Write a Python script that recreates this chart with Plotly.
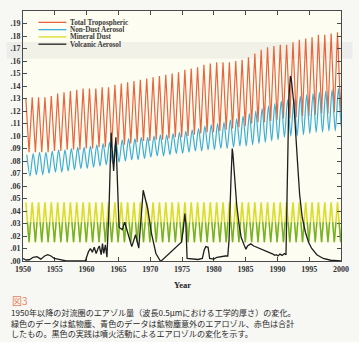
import plotly.graph_objects as go

# ---------------- data ----------------
years = list(range(1950, 2001))

total_peak = [0.130, 0.131, 0.131, 0.131, 0.132, 0.134, 0.135, 0.136, 0.137, 0.138,
              0.138, 0.138, 0.139, 0.139, 0.141, 0.142, 0.143, 0.144, 0.145, 0.146,
              0.147, 0.148, 0.149, 0.150, 0.151, 0.153, 0.154, 0.155, 0.157, 0.158,
              0.159, 0.159, 0.159, 0.160, 0.161, 0.163, 0.166, 0.169, 0.171, 0.172,
              0.173, 0.173, 0.175, 0.177, 0.178, 0.179, 0.181, 0.181, 0.182, 0.183,
              0.184]
total_trough = [0.087, 0.087, 0.087, 0.087, 0.088, 0.088, 0.089, 0.089, 0.089, 0.090,
                0.090, 0.091, 0.091, 0.092, 0.093, 0.093, 0.094, 0.095, 0.096, 0.096,
                0.097, 0.097, 0.098, 0.099, 0.099, 0.100, 0.101, 0.102, 0.103, 0.103,
                0.104, 0.105, 0.106, 0.107, 0.108, 0.110, 0.111, 0.111, 0.112, 0.113,
                0.114, 0.114, 0.115, 0.116, 0.116, 0.117, 0.118, 0.118, 0.119, 0.119,
                0.120]

nondust_peak = [0.085, 0.086, 0.087, 0.087, 0.088, 0.089, 0.089, 0.090, 0.091, 0.091,
                0.092, 0.093, 0.094, 0.095, 0.096, 0.097, 0.098, 0.098, 0.099, 0.099,
                0.100, 0.101, 0.101, 0.102, 0.103, 0.104, 0.105, 0.106, 0.108, 0.109,
                0.110, 0.111, 0.113, 0.114, 0.116, 0.118, 0.120, 0.122, 0.124, 0.126,
                0.128, 0.129, 0.130, 0.132, 0.133, 0.134, 0.135, 0.136, 0.137, 0.138,
                0.139]
nondust_trough = [0.068, 0.069, 0.069, 0.070, 0.071, 0.071, 0.072, 0.073, 0.074, 0.074,
                  0.075, 0.076, 0.077, 0.078, 0.079, 0.080, 0.081, 0.081, 0.082, 0.083,
                  0.084, 0.084, 0.085, 0.086, 0.086, 0.087, 0.088, 0.088, 0.089, 0.089,
                  0.090, 0.090, 0.091, 0.092, 0.092, 0.093, 0.094, 0.095, 0.096, 0.097,
                  0.099, 0.100, 0.100, 0.101, 0.102, 0.103, 0.103, 0.104, 0.104, 0.105,
                  0.105]

dust_peak = [0.047, 0.047, 0.047, 0.047, 0.047, 0.047, 0.047, 0.047, 0.047, 0.047,
             0.047, 0.047, 0.047, 0.047, 0.047, 0.047, 0.047, 0.047, 0.047, 0.047,
             0.047, 0.047, 0.047, 0.047, 0.047, 0.047, 0.047, 0.047, 0.047, 0.047,
             0.047, 0.047, 0.047, 0.047, 0.047, 0.047, 0.047, 0.047, 0.047, 0.047,
             0.047, 0.047, 0.047, 0.047, 0.047, 0.047, 0.047, 0.047, 0.047, 0.047,
             0.047]
dust_trough = [0.015, 0.015, 0.015, 0.015, 0.015, 0.015, 0.015, 0.015, 0.015, 0.015,
               0.015, 0.015, 0.015, 0.015, 0.015, 0.015, 0.015, 0.015, 0.015, 0.015,
               0.015, 0.015, 0.015, 0.015, 0.015, 0.015, 0.015, 0.015, 0.015, 0.015,
               0.015, 0.015, 0.015, 0.015, 0.015, 0.015, 0.015, 0.015, 0.015, 0.015,
               0.015, 0.015, 0.015, 0.015, 0.015, 0.015, 0.015, 0.015, 0.015, 0.015,
               0.015]

volc_year = [1950.0, 1950.5, 1951.0, 1951.6, 1952.2, 1952.8, 1953.4, 1953.9, 1954.4, 1954.9,
             1955.5, 1956.2, 1956.8, 1959.8,
             1960.0, 1960.3, 1960.6, 1960.9, 1961.2, 1961.5, 1961.8, 1962.0, 1962.3, 1962.5,
             1962.7, 1962.95, 1963.2, 1963.55, 1963.85, 1964.05, 1964.25, 1964.6, 1964.85,
             1965.1, 1965.6, 1966.0, 1966.5, 1967.1, 1967.7, 1968.2, 1968.9, 1969.6, 1970.2,
             1970.9, 1971.6, 1971.9, 1974.9, 1975.2, 1975.45, 1975.6, 1975.8, 1976.5, 1977.5,
             1978.2, 1978.5, 1978.75, 1979.1, 1979.35, 1980.0, 1980.5, 1981.0, 1981.8, 1982.2,
             1982.4, 1982.7, 1982.9, 1983.0, 1983.3, 1983.6, 1983.95, 1984.3, 1984.8, 1985.05,
             1985.3, 1985.8, 1986.3, 1986.8, 1987.3, 1987.8, 1988.3, 1988.8, 1989.3, 1989.6,
             1989.85, 1990.1, 1990.4, 1990.75, 1991.1, 1991.35, 1991.6, 1991.8, 1992.05,
             1992.2, 1992.6, 1992.9, 1993.15, 1993.5, 1993.9, 1994.4, 1994.9, 1995.4, 1996.2,
             1997.2, 1998.4, 2000.0]
volc_value = [0.002, 0.0008, 0.001, 0.003, 0.0035, 0.0015, 0.004, 0.005, 0.004, 0.002,
              0.0015, 0.0005, 0.0, 0.0,
              0.003, 0.0075, 0.010, 0.007, 0.011, 0.006, 0.010, 0.012, 0.005, 0.014,
              0.006, 0.013, 0.003, 0.046, 0.1025, 0.088, 0.072, 0.099, 0.066,
              0.027, 0.025, 0.031, 0.022, 0.0115, 0.021, 0.0103, 0.0566, 0.042, 0.022,
              0.006, 0.0, 0.0008, 0.015, 0.025, 0.038, 0.030, 0.002, 0.0015, 0.0012,
              0.002, 0.009, 0.0115, 0.011, 0.002, 0.0015, 0.003, 0.0035, 0.004, 0.004,
              0.017, 0.065, 0.090, 0.086, 0.063, 0.045, 0.030, 0.019, 0.0125, 0.0095,
              0.012, 0.0137, 0.012, 0.011, 0.0095, 0.0087, 0.0075, 0.0066, 0.0055, 0.0045,
              0.005, 0.004, 0.0055, 0.0045, 0.006, 0.005, 0.080, 0.130, 0.148,
              0.145, 0.125, 0.104, 0.080, 0.053, 0.035, 0.023, 0.015, 0.010, 0.005,
              0.002, 0.0006, 0.0]

x_ticks = [1950, 1955, 1960, 1965, 1970, 1975, 1980, 1985, 1990, 1995, 2000]
x_labels = [str(v) for v in x_ticks]
y_ticks = [i / 100 for i in range(0, 20)]
y_labels = [".%02d" % i for i in range(0, 20)]

legend_names = ["Total Tropospheric", "Non-Dust Aerosol", "Mineral Dust", "Volcanic Aerosol"]

caption_title = "図3"
caption_lines = [
    "1950年以降の対流圏のエアゾル量（波長0.5μmにおける工学的厚さ）の変化。",
    "緑色のデータは鉱物塵、青色のデータは鉱物塵意外のエアロゾル、赤色は合計",
    "したもの。黒色の実践は噴火活動によるエアロゾルの変化を示す。",
]

# ---------------- styling ----------------
W, H = 359, 342
L, R, T, B = 17, 12, 10, 81
PW, PH = W - L - R, H - T - B

RED = "#e8663e"
BLUE = "#3aaed8"
YELLOW = "#dcdc2a"
GREEN = "#6eb034"
BLACK = "#1e1e1e"
SERIF = "Liberation Serif"
CJK = "Noto Sans CJK JP"


def px(x):
    return (x - L) / PW


def py(y):
    return (H - B - y) / PH


def zigzag(peaks, troughs, p_off, t_off):
    xs, ys = [], []
    for yr, p, t in zip(years, peaks, troughs):
        xs += [yr + p_off, yr + t_off]
        ys += [p, t]
    return xs, ys


tx, ty = zigzag(total_peak, total_trough, 0.45, 0.95)
nx, ny = zigzag(nondust_peak, nondust_trough, 0.6, 1.1)
dx, dy = zigzag(dust_peak, dust_trough, 0.45, 0.95)

fig = go.Figure()
fig.add_trace(go.Scatter(x=tx, y=ty, mode="lines", line=dict(color=RED, width=1.2),
                         name=legend_names[0], showlegend=False))
fig.add_trace(go.Scatter(x=nx, y=ny, mode="lines", line=dict(color=BLUE, width=1.2, shape="spline", smoothing=0.8),
                         name=legend_names[1], showlegend=False))
fig.add_trace(go.Scatter(x=dx, y=dy, mode="lines", line=dict(color=YELLOW, width=1.6),
                         name=legend_names[2], showlegend=False))
# lower (greenish) part of the dust zigzag, clipped by a short sub-domain
fig.add_trace(go.Scatter(x=dx, y=dy, mode="lines", line=dict(color=GREEN, width=1.3),
                         yaxis="y2", showlegend=False, hoverinfo="skip"))
fig.add_trace(go.Scatter(x=volc_year, y=volc_value, mode="lines", line=dict(color=BLACK, width=1.3),
                         yaxis="y3", name=legend_names[3], showlegend=False))

axis_line = "#4a4a4a"
tickfont = dict(family=SERIF, size=8, color="#333333", weight="bold")

shapes = [
    dict(type="rect", xref="paper", yref="paper", x0=0, x1=1, y0=0, y1=1,
         fillcolor="#fdfdf1", line=dict(width=0), layer="below"),
    dict(type="rect", xref="paper", yref="paper", x0=px(0), x1=px(W), y0=py(58), y1=py(41),
         fillcolor="rgba(200,200,200,0.22)", line=dict(width=0), layer="below"),
]
annotations = []
legend_colors = [RED, BLUE, YELLOW, BLACK]
legend_rows = [21.4, 28.7, 36.0, 43.3]
for name, col, yy in zip(legend_names, legend_colors, legend_rows):
    shapes.append(dict(type="line", xref="paper", yref="paper", x0=px(33), x1=px(62),
                       y0=py(yy), y1=py(yy), line=dict(color=col, width=1.3)))
    annotations.append(dict(xref="paper", yref="paper", x=px(64), y=py(yy), text=name,
                            showarrow=False, xanchor="left", yanchor="middle", height=7.3,
                            font=dict(family=SERIF, size=7.2, color="#3a3a3a", weight="bold")))

annotations.append(dict(xref="paper", yref="paper", x=px(182), y=py(285), text="Year",
                        showarrow=False, xanchor="center", yanchor="middle",
                        font=dict(family=SERIF, size=8.5, color="#222222", weight="bold")))
annotations.append(dict(xref="paper", yref="paper", x=px(4), y=py(300.6), text=caption_title,
                        showarrow=False, xanchor="left", yanchor="middle",
                        font=dict(family=CJK, size=10, color="#e2875a")))
annotations.append(dict(xref="paper", yref="paper", x=px(2), y=py(323.6),
                        text="<br>".join(caption_lines), align="left",
                        showarrow=False, xanchor="left", yanchor="middle",
                        font=dict(family=CJK, size=8.1, color="#2a2a2a")))

fig.update_layout(
    width=W, height=H,
    margin=dict(l=L, r=R, t=T, b=B, pad=0),
    paper_bgcolor="#f7f7f4",
    plot_bgcolor="rgba(0,0,0,0)",
    showlegend=False,
    xaxis=dict(range=[1950, 2000], tickvals=x_ticks, ticktext=x_labels, ticks="inside",
               ticklen=4, tickwidth=1, tickcolor=axis_line, mirror="ticks", showline=True,
               linecolor=axis_line, linewidth=1, showgrid=False, zeroline=False,
               tickfont=tickfont, anchor="y"),
    yaxis=dict(range=[0, 0.2], tickvals=y_ticks, ticktext=y_labels, ticks="inside",
               ticklen=4, tickwidth=1, tickcolor=axis_line, mirror="ticks", showline=True,
               linecolor=axis_line, linewidth=1, showgrid=False, zeroline=False,
               tickfont=tickfont, domain=[0, 1]),
    yaxis2=dict(range=[0, 0.031], domain=[0, 0.031 / 0.2], anchor="x", visible=False,
                showgrid=False, zeroline=False),
    yaxis3=dict(range=[0, 0.2], domain=[0, 1], anchor="x", visible=False,
                showgrid=False, zeroline=False),
    shapes=shapes,
    annotations=annotations,
)

fig.write_html("out.html")
